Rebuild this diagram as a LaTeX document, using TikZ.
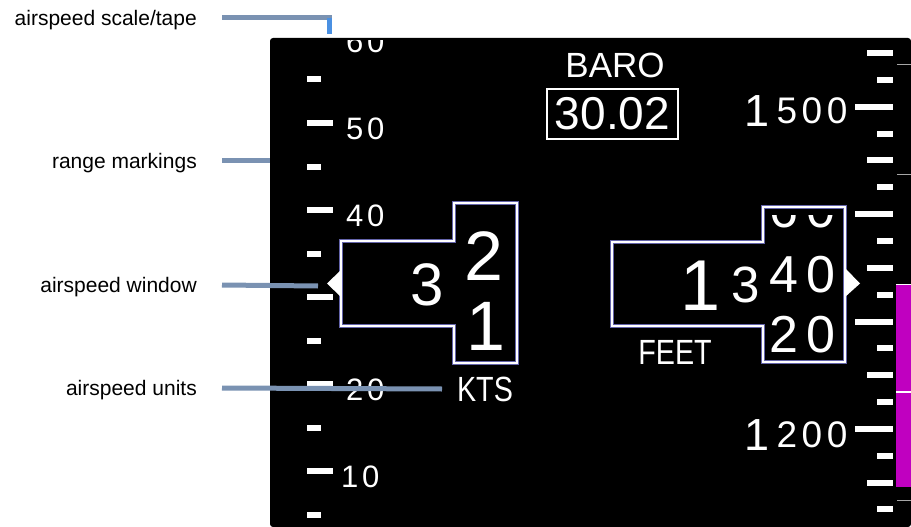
\documentclass[tikz,border=0pt]{standalone}
\usepackage{fontspec}
\setmainfont{Liberation Sans}
\newfontfamily\pfd{Liberation Sans}
\newfontfamily\pfdwide[LetterSpace=12]{Liberation Sans}
\newfontfamily\pfdnarrow[FakeStretch=0.82]{Liberation Sans}
\newcommand\pfdsize[1]{\fontsize{#1}{#1}\selectfont}
\usetikzlibrary{calc}
\definecolor{calloutgray}{RGB}{122,146,178}
\definecolor{calloutblue}{RGB}{74,144,226}
\definecolor{windowedge}{RGB}{100,100,170}
\definecolor{trendmagenta}{RGB}{192,0,192}
\tikzset{
    callout-label/.style = {anchor=east, inner sep=0pt, font=\pfdsize{21}},
    callout-line/.style = {draw=calloutgray, line width=5pt},
    tape-label/.style = {anchor=base west, inner sep=0pt, text=white, font=\pfdwide\pfdsize{31}},
    alt-label/.style = {anchor=base west, inner sep=0pt, text=white, font=\pfdwide\pfdsize{37}},
    window-frame/.style = {fill=black, draw=windowedge, line width=1.4pt, double=white, double distance=1.4pt},
    drum-digit/.style = {anchor=base, inner sep=0pt, text=white},
    unit-label/.style = {inner sep=0pt, text=white, font=\pfdnarrow\pfdsize{35}},
}

\begin{document}
\begin{tikzpicture}[x=1pt, y=-1pt]
\useasboundingbox (0,0) rectangle (911,527);

% display panel
\fill[black, rounded corners=3pt] (270,38) rectangle (911,527);

% airspeed tape
\begin{scope}
\clip (270,41) rectangle (911,527);
\foreach \y in {123,210,297,384,471}
    \fill[white] (307,\y-3) rectangle (333,\y+3);
\foreach \y in {79.5,166.5,253.5,340.5,427.5,514.5}
    \fill[white] (307,\y-3) rectangle (321,\y+3);
\foreach \v/\x/\y in {60/346/52.5, 50/346/139.5, 40/346/226.5, 20/346/400.5, 10/341/487.5}
    \node[tape-label] (spd\v) at (\x,\y) {\v};
\end{scope}

% altitude tape
\foreach \k in {0,...,17}{
    \pgfmathsetmacro\ticky{53+26.85*\k}
    \pgfmathtruncatemacro\kind{mod(\k,4)}
    \ifnum\kind=2 \def\tickx{855}\else\ifnum\kind=0 \def\tickx{867}\else\def\tickx{877}\fi\fi
    \fill[white] (\tickx,\ticky-3) rectangle (893,\ticky+3);
}
\foreach \y in {65,174,500}
    \draw[gray!70, line width=1pt] (897,\y) -- (911,\y);
\node[alt-label] (alt1500) at (744.5,123) {{\pfdsize{45}\raisebox{-3pt}{1}}\hspace{7pt}500};
\node[alt-label] (alt1200) at (744.5,447) {{\pfdsize{45}\raisebox{-3pt}{1}}\hspace{7pt}200};

% vertical trend bar
\fill[trendmagenta] (896,284) rectangle (911,487);
\draw[white, line width=1.2pt] (896,284.6) -- (911,284.6);
\draw[white, line width=1.2pt] (896,392) -- (911,392);

% baro setting
\node[drum-digit, anchor=center, font=\pfd\pfdsize{35}] (baroLabel) at (615,65.5) {BARO};
\node[draw=white, line width=1.5pt, minimum width=131pt, minimum height=50pt, inner sep=0pt,
      text=white, font=\pfd\pfdsize{46}] (baroSet) at (612.5,114) {30.02};

% airspeed window
\draw[window-frame] (341,241) -- (454,241) -- (454,203) -- (517,203) -- (517,363)
    -- (454,363) -- (454,326) -- (341,326) -- cycle;
\fill[white] (341,270) -- (327,283.5) -- (341,297) -- cycle;
\node[drum-digit, font=\pfd\pfdsize{60}] (spdTens) at (427.5,305) {3};
\node[drum-digit, font=\pfd\pfdsize{70}] (spdUnitUp) at (483.5,280) {2};
\node[drum-digit, font=\pfd\pfdsize{70}] (spdUnitDown) at (486,350) {1};
\node[unit-label] (kts) at (485,389.5) {KTS};

% altitude window
\draw[window-frame] (612,242) -- (763,242) -- (763,207) -- (845,207) -- (845,362)
    -- (763,362) -- (763,326) -- (612,326) -- cycle;
\fill[white] (845,268) -- (860,283.5) -- (845,297) -- cycle;
\node[drum-digit, font=\pfd\pfdsize{72}] (altThousands) at (700.7,310) {1};
\node[drum-digit, font=\pfd\pfdsize{51}] (altHundreds) at (745.5,302) {3};
\begin{scope}
\clip (764.5,215) rectangle (843.5,360.5);
\node[drum-digit, font=\pfd\pfdsize{52}] (altTensUp) at (802.5,227) {6\hspace{9pt}0};
\end{scope}
\node[drum-digit, font=\pfd\pfdsize{52}] (altTens) at (802.5,292) {4\hspace{9pt}0};
\node[drum-digit, font=\pfd\pfdsize{52}] (altTensDown) at (802.5,352) {2\hspace{9pt}0};
\node[unit-label] (feet) at (675,352.5) {FEET};

% callouts
\node[callout-label] (lblTape) at (197,20.5) {airspeed scale/tape};
\node[callout-label] (lblRange) at (197,163) {range markings};
\node[callout-label] (lblWindow) at (197,287.5) {airspeed window};
\node[callout-label] (lblUnits) at (197,390.5) {airspeed units};
\coordinate (tapeStart) at ([xshift=25pt,yshift=2.5pt]lblTape.east);
\coordinate (tapeTip) at (329.5,34);
\coordinate (rangeEnd) at (270,160.5);
\coordinate (windowEnd) at (318,286);
\coordinate (unitsEnd) at (442,389);
\draw[callout-line] (tapeStart) -| (tapeTip);
\draw[callout-line, draw=calloutblue] (tapeStart -| tapeTip) -- (tapeTip);
\draw[callout-line] ([xshift=25pt,yshift=2.5pt]lblRange.east) -- (rangeEnd);
\draw[callout-line] ([xshift=25pt,yshift=2.5pt]lblWindow.east) -- (windowEnd);
\draw[callout-line] ([xshift=25pt,yshift=2.5pt]lblUnits.east) -- (unitsEnd);
\end{tikzpicture}
\end{document}
